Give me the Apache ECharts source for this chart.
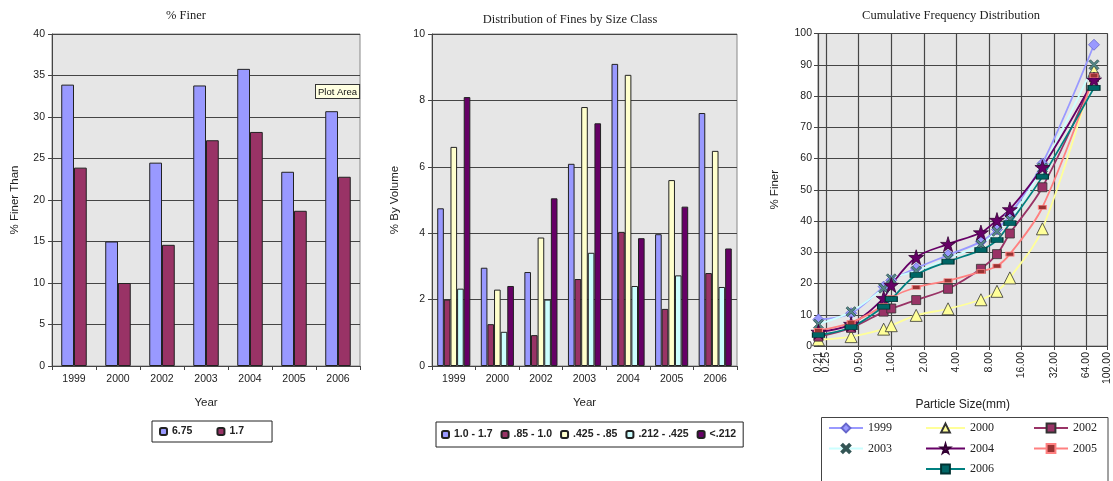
<!DOCTYPE html>
<html>
<head>
<meta charset="utf-8">
<script src="https://cdn.jsdelivr.net/npm/echarts@6/dist/echarts.min.js"></script>
<style>
html,body{margin:0;padding:0;background:#fff;}
#c{width:1113px;height:481px;}
</style>
</head>
<body>
<div id="c"></div>
<script>
// ---------- DATA ----------
const years = ['1999', '2000', '2002', '2003', '2004', '2005', '2006'];

// Chart 1: % Finer
const finer675 = [33.9, 15.0, 24.5, 33.8, 35.8, 23.4, 30.7];
const finer17  = [23.9, 10.0, 14.6, 27.2, 28.2, 18.7, 22.8];

// Chart 2: Distribution of fines by size class
const cls10_17    = [4.75, 2.96, 2.83, 6.09, 9.10, 3.97, 7.62];
const cls085_10   = [2.00, 1.26, 0.93, 2.62, 4.04, 1.72, 2.80];
const cls0425_085 = [6.60, 2.30, 3.87, 7.80, 8.77, 5.60, 6.48];
const cls0212_0425= [2.33, 1.03, 2.00, 3.41, 2.41, 2.73, 2.38];
const clsLt0212   = [8.10, 2.41, 5.05, 7.31, 3.85, 4.80, 3.54];

// Chart 3: Cumulative frequency distribution
const sizes = [0.212, 0.425, 0.85, 1.0, 1.7, 3.35, 6.75, 9.5, 12.5, 25, 75];
const cum1999 = [8.5, 10.5, 19.0, 21.0, 24.9, 29.1, 33.4, 37.3, 41.9, 58.4, 96.4];
const cum2000 = [2.0, 3.0, 5.4, 6.5, 9.8, 11.9, 14.8, 17.5, 21.8, 37.5, 88.0];
const cum2002 = [3.0, 5.8, 11.0, 12.0, 14.7, 18.3, 24.7, 29.4, 36.0, 50.8, 86.0];
const cum2003 = [7.0, 11.0, 18.5, 21.5, 24.0, 28.0, 32.5, 36.7, 40.5, 57.0, 90.0];
const cum2004 = [4.5, 7.0, 15.3, 19.5, 28.4, 32.6, 36.3, 40.3, 43.7, 57.2, 85.2];
const cum2005 = [5.0, 7.5, 13.0, 15.5, 18.8, 20.9, 23.8, 25.6, 29.4, 44.4, 86.5];
const cum2006 = [3.5, 6.0, 12.6, 15.0, 22.7, 27.0, 30.7, 33.9, 39.3, 54.2, 82.6];

// ---------- STYLE ----------
const SANS = '"Liberation Sans", Arial, sans-serif';
const SERIF = '"Liberation Serif", "Times New Roman", serif';
const PLOTBG = '#E6E6E6';
const GRIDC = '#454545';

function pairs(vals) { return sizes.map((s, i) => [s, vals[i]]); }

const starPath = 'path://M50,0 L61,35 L98,35 L68,57 L79,91 L50,70 L21,91 L32,57 L2,35 L39,35 Z';
const xPath = 'path://M0,15 L15,0 L50,35 L85,0 L100,15 L65,50 L100,85 L85,100 L50,65 L15,100 L0,85 L35,50 Z';

const grids = [
  {left: 52, top: 34, width: 308, height: 332},
  {left: 432, top: 34, width: 305, height: 332},
  {left: 818, top: 33.5, width: 294, height: 312.5}
];
grids.forEach(g => { g.show = true; g.backgroundColor = PLOTBG; g.borderColor = '#888'; g.borderWidth = 1; g.containLabel = false; });

const baseAxisLabel = {color: '#222', fontFamily: SANS, fontSize: 10.5};
const catAxis = (gi) => ({
  type: 'category', gridIndex: gi, data: years,
  name: 'Year', nameLocation: 'middle', nameGap: 31,
  nameTextStyle: {fontFamily: SANS, fontSize: 11.5, color: '#222'},
  axisLine: {show: true, lineStyle: {color: '#444', width: 1}},
  axisTick: {show: true, length: 4, inside: false, lineStyle: {color: '#444'}},
  axisLabel: Object.assign({margin: 8}, baseAxisLabel),
  splitLine: {show: false}
});

const bar = (name, data, color, xi, yi, gap) => ({
  type: 'bar', name, data, xAxisIndex: xi, yAxisIndex: yi,
  itemStyle: {color, borderColor: '#222', borderWidth: 1},
  barGap: '0%', barCategoryGap: gap
});

const lineS = (name, vals, color, symbol, symbolSize, symColor, symBorder) => ({
  type: 'line', name, data: pairs(vals), xAxisIndex: 2, yAxisIndex: 2,
  smooth: 0.35, symbol, symbolSize, showAllSymbol: true,
  lineStyle: {color, width: 1.8},
  itemStyle: {color: symColor || color, borderColor: symBorder || '#333', borderWidth: 0.8},
  emphasis: {disabled: true}
});

const logAxisBase = {
  type: 'log', logBase: 2, gridIndex: 2, min: 0.21, max: 100, position: 'bottom', offset: 0
};

const yv = (gi, max, interval, name, gap) => ({
  type: 'value', gridIndex: gi, min: 0, max, interval,
  name, nameLocation: 'middle', nameGap: gap,
  nameTextStyle: {fontFamily: SANS, fontSize: 11.5, color: '#222'},
  axisLine: {show: true, lineStyle: {color: '#444'}},
  axisTick: {show: true, length: 4, lineStyle: {color: '#444'}},
  axisLabel: Object.assign({margin: 7}, baseAxisLabel),
  splitLine: {show: true, lineStyle: {color: GRIDC, width: 1.2}}
});

const lineLegend = (names, left, w) => ({
  data: names, left, top: 422, orient: 'vertical',
  itemWidth: w, itemHeight: 11, itemGap: 8.5, padding: 0,
  textStyle: {fontFamily: SERIF, fontSize: 12, color: '#222'}, selectedMode: false
});

const option = {
  animation: false,
  backgroundColor: '#fff',
  title: [
    {text: '% Finer', left: 181, top: 4, textAlign: 'center',
      textStyle: {fontFamily: SERIF, fontSize: 12.5, fontWeight: 'normal', color: '#222'}},
    {text: 'Distribution of Fines by Size Class', left: 565, top: 8, textAlign: 'center',
      textStyle: {fontFamily: SERIF, fontSize: 12.5, fontWeight: 'normal', color: '#222'}},
    {text: 'Cumulative Frequency Distribution', left: 946, top: 4, textAlign: 'center',
      textStyle: {fontFamily: SERIF, fontSize: 12.5, fontWeight: 'normal', color: '#222'}}
  ],
  grid: grids,
  xAxis: [
    catAxis(0),
    catAxis(1),
    Object.assign({}, logAxisBase, {
      name: 'Particle Size(mm)', nameLocation: 'middle', nameGap: 53,
      nameTextStyle: {fontFamily: SANS, fontSize: 12, color: '#222'},
      axisLine: {show: true, lineStyle: {color: '#444'}},
      axisTick: {show: true, length: 4, lineStyle: {color: '#444'}},
      axisLabel: Object.assign({}, baseAxisLabel, {rotate: 90, margin: 6, showMinLabel: false, showMaxLabel: true,
        hideOverlap: false, formatter: v => Number(v).toFixed(2)}),
      splitLine: {show: true, lineStyle: {color: GRIDC, width: 1.2}}
    }),
    Object.assign({}, logAxisBase, {
      axisLine: {show: false}, axisTick: {show: false}, splitLine: {show: false},
      axisLabel: Object.assign({}, baseAxisLabel, {rotate: 90, margin: 6, showMinLabel: true, showMaxLabel: false,
        hideOverlap: false, formatter: (v, i) => (i === 0 ? Number(v).toFixed(2) : '')})
    })
  ],
  yAxis: [
    yv(0, 40, 5, '% Finer Than', 31),
    yv(1, 10, 2, '% By Volume', 31),
    Object.assign(yv(2, 100, 10, '% Finer', 37), {axisLabel: Object.assign({margin: 6}, baseAxisLabel)})
  ],
  legend: [
    {
      data: ['6.75', '1.7'], left: 152, top: 421, orient: 'horizontal',
      itemWidth: 7, itemHeight: 7, itemGap: 24,
      padding: [5, 28, 5, 7], borderColor: '#222', borderWidth: 1,
      textStyle: {fontFamily: SANS, fontSize: 10.5, fontWeight: 'bold', color: '#222'},
      selectedMode: false
    },
    {
      data: ['1.0 - 1.7', '.85 - 1.0', '.425 - .85', '.212 - .425', '<.212'],
      left: 436, top: 422, orient: 'horizontal',
      itemWidth: 7, itemHeight: 7, itemGap: 8,
      padding: [7, 7, 7, 5], borderColor: '#222', borderWidth: 1,
      textStyle: {fontFamily: SANS, fontSize: 10.5, fontWeight: 'bold', color: '#222'},
      selectedMode: false
    },
    lineLegend(['1999', '2003'], 828, 34),
    lineLegend(['2000', '2004', '2006'], 925, 39),
    lineLegend(['2002', '2005'], 1033, 34)
  ],
  graphic: [
    {type: 'rect', shape: {x: 821.5, y: 417.5, width: 286.5, height: 80},
      style: {fill: 'none', stroke: '#444', lineWidth: 1}, silent: true, z: 1},
    {type: 'text', x: 316, y: 85, z: 100,
      style: {text: 'Plot Area', fontFamily: SANS, fontSize: 9.5, fill: '#111',
        backgroundColor: '#FFFFE1', borderColor: '#333', borderWidth: 1, padding: [2, 2, 1, 2]}}
  ],
  series: [
    bar('6.75', finer675, '#9999FF', 0, 0, '42%'),
    bar('1.7', finer17, '#993366', 0, 0, '42%'),
    bar('1.0 - 1.7', cls10_17, '#9999FF', 1, 1, '24%'),
    bar('.85 - 1.0', cls085_10, '#993366', 1, 1, '24%'),
    bar('.425 - .85', cls0425_085, '#FFFFCC', 1, 1, '24%'),
    bar('.212 - .425', cls0212_0425, '#CCFFFF', 1, 1, '24%'),
    bar('<.212', clsLt0212, '#660066', 1, 1, '24%'),
    lineS('1999', cum1999, '#9999FF', 'diamond', 11, '#9999FF', '#6666CC'),
    lineS('2000', cum2000, '#FFFF99', 'triangle', 12, '#FFFF99', '#333'),
    lineS('2002', cum2002, '#993366', 'rect', 9, '#993366', '#333'),
    lineS('2003', cum2003, '#CCFFFF', xPath, 10, '#558888', '#335555'),
    lineS('2004', cum2004, '#660066', starPath, 15, '#660066', '#330033'),
    lineS('2005', cum2005, '#FF8080', 'rect', [8, 4], '#993333', '#FF8080'),
    lineS('2006', cum2006, '#008080', 'rect', [12, 5], '#006666', '#003333')
  ]
};

const chart = echarts.init(document.getElementById('c'), null, {renderer: 'canvas'});
chart.setOption(option);
</script>
</body>
</html>
